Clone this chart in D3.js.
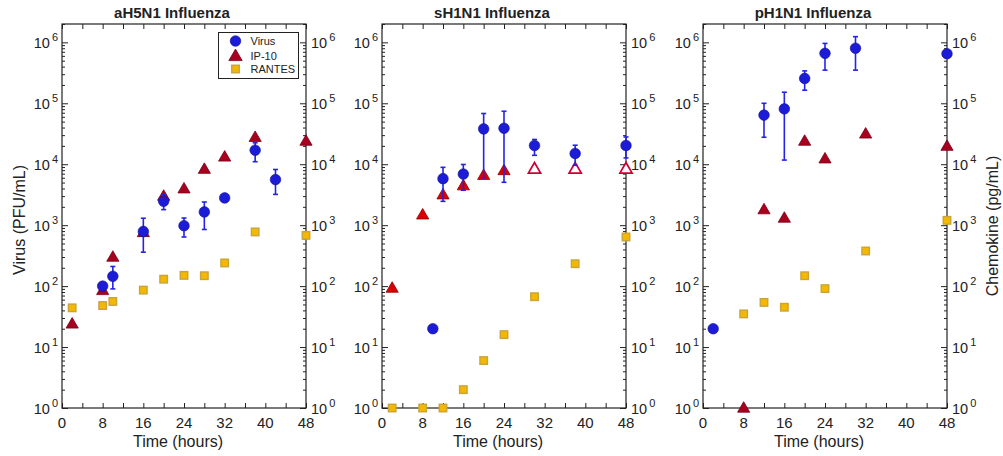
<!DOCTYPE html>
<html><head><meta charset="utf-8">
<script src="https://cdn.jsdelivr.net/npm/d3@7"></script>
<style>body{margin:0;background:#fff} text{font-family:"Liberation Sans",Arial,sans-serif;fill:#222}</style>
</head><body><svg id="c" width="1003" height="456"></svg>
<script>
// ---- data ----
const panelTitles = ["aH5N1 Influenza", "sH1N1 Influenza", "pH1N1 Influenza"];
const xTickLabels = [0, 8, 16, 24, 32, 40, 48];
const yTickExps = [0, 1, 2, 3, 4, 5, 6];
const legendLabels = ["Virus", "IP-10", "RANTES"];

const h5VirusTime = [8, 10, 16, 20, 24, 28, 32, 38, 42];
const h5Virus     = [100, 145, 790, 2470, 980, 1650, 2800, 17000, 5600];
const h5VirusLo   = [95, 90, 360, 1800, 640, 850, 2800, 11000, 3200];
const h5VirusHi   = [105, 210, 1300, 3150, 1310, 2400, 2800, 22500, 8200];
const h5IpTime    = [2, 8, 10, 16, 20, 24, 28, 32, 38, 48];
const h5Ip        = [24, 85, 300, 760, 3000, 3960, 8300, 13200, 27700, 24000];
const h5IpOpen    = [0, 0, 0, 0, 0, 0, 0, 0, 0, 0];
const h5RanTime   = [2, 8, 10, 16, 20, 24, 28, 32, 38, 48];
const h5Ran       = [44, 48, 56, 86, 130, 150, 148, 240, 775, 680];

const s1VirusTime = [10, 12, 16, 20, 24, 30, 38, 48];
const s1Virus     = [20, 5800, 6900, 38000, 39000, 20300, 15000, 20300];
const s1VirusLo   = [20, 2460, 3740, 6000, 5050, 14000, 9600, 12700];
const s1VirusHi   = [20, 8900, 9900, 68000, 74000, 25500, 20500, 28000];
const s1IpTime    = [2, 8, 12, 16, 20, 24, 30, 38, 48];
const s1Ip        = [93, 1480, 3160, 4450, 6600, 7900, 8400, 8400, 8400];
const s1IpOpen    = [0, 0, 0, 0, 0, 0, 1, 1, 1];
const s1RanTime   = [2, 8, 12, 16, 20, 24, 30, 38, 48];
const s1Ran       = [1, 1, 1, 2, 6, 16, 67, 233, 640];

const p1VirusTime = [2, 12, 16, 20, 24, 30, 48];
const p1Virus     = [20, 64000, 81000, 256000, 660000, 800000, 650000];
const p1VirusLo   = [20, 27700, 11700, 164000, 350000, 350000, 650000];
const p1VirusHi   = [20, 100000, 152000, 340000, 960000, 1240000, 650000];
const p1IpTime    = [8, 12, 16, 20, 24, 32, 48];
const p1Ip        = [1, 1800, 1310, 24000, 12300, 31500, 19800];
const p1IpOpen    = [0, 0, 0, 0, 0, 0, 0];
const p1RanTime   = [8, 12, 16, 20, 24, 32, 48];
const p1Ran       = [35, 54, 45, 148, 91, 377, 1200];

// ---- build ----
const panels = [
  {vt:h5VirusTime, v:h5Virus, lo:h5VirusLo, hi:h5VirusHi, it:h5IpTime, ip:h5Ip, open:h5IpOpen, rt:h5RanTime, r:h5Ran, triFill:"#a8001f", triStroke:"#780016"},
  {vt:s1VirusTime, v:s1Virus, lo:s1VirusLo, hi:s1VirusHi, it:s1IpTime, ip:s1Ip, open:s1IpOpen, rt:s1RanTime, r:s1Ran, triFill:"#dd0000", triStroke:"#8a0000"},
  {vt:p1VirusTime, v:p1Virus, lo:p1VirusLo, hi:p1VirusHi, it:p1IpTime, ip:p1Ip, open:p1IpOpen, rt:p1RanTime, r:p1Ran, triFill:"#a8001f", triStroke:"#780016"}
];
const svg = d3.select("#c");
const lefts = [62, 382, 703], W = 244, T = 24, B = 408;
const virusFill = "#1b1bd8", virusStroke = "#10108f", errColor = "#2424e6";
const ranFill = "#f4b800", ranStroke = "#c8a43a";
const triPath = s => `M0,${-s*0.6}L${s*0.58},${s*0.4}L${-s*0.58},${s*0.4}Z`;
const TRI = 10.5, SQ = 7.5, CR = 5.3;

const minor = [];
for (let d = 0; d <= 6; d++) for (let m = 2; m <= 9; m++) if (m * Math.pow(10, d) <= 2e6) minor.push(m * Math.pow(10, d));
const major = yTickExps.map(e => Math.pow(10, e));

panels.forEach((p, i) => {
  const L = lefts[i], R = L + W;
  const x = d3.scaleLinear().domain([0, 48]).range([L, R]);
  const y = d3.scaleLog().domain([1, 2e6]).range([B, T]);
  const g = svg.append("g");
  const clean = s => s.select(".domain").remove();
  g.append("g").attr("transform", `translate(0,${B})`).call(d3.axisTop(x).tickValues(d3.range(0, 49, 4)).tickSize(5).tickFormat("")).call(clean);
  g.append("g").attr("transform", `translate(0,${T})`).call(d3.axisBottom(x).tickValues(d3.range(0, 49, 4)).tickSize(5).tickFormat("")).call(clean);
  g.append("g").attr("transform", `translate(${L},0)`).call(d3.axisRight(y).tickValues(major).tickSize(6).tickFormat("")).call(clean);
  g.append("g").attr("transform", `translate(${L},0)`).call(d3.axisRight(y).tickValues(minor).tickSize(3).tickFormat("")).call(clean);
  g.append("g").attr("transform", `translate(${R},0)`).call(d3.axisLeft(y).tickValues(major).tickSize(6).tickFormat("")).call(clean);
  g.append("g").attr("transform", `translate(${R},0)`).call(d3.axisLeft(y).tickValues(minor).tickSize(3).tickFormat("")).call(clean);
  g.selectAll(".tick line").attr("stroke", "#222");
  g.append("rect").attr("x", L).attr("y", T).attr("width", W).attr("height", B - T).attr("fill", "none").attr("stroke", "#222").attr("stroke-width", 1.2);

  g.selectAll(".xl").data(xTickLabels).enter().append("text").attr("x", d => x(d)).attr("y", 428)
    .attr("text-anchor", "middle").attr("font-size", 15).text(d => d);
  yTickExps.forEach(e => {
    const yy = y(Math.pow(10, e));
    const tl = g.append("text").attr("x", L - 4).attr("y", yy + 6).attr("text-anchor", "end").attr("font-size", 14.5);
    tl.append("tspan").text("10");
    tl.append("tspan").attr("dx", 2).attr("dy", -7).attr("font-size", 11).text(e);
    const tr = g.append("text").attr("x", R + 5).attr("y", yy + 6).attr("text-anchor", "start").attr("font-size", 14.5);
    tr.append("tspan").text("10");
    tr.append("tspan").attr("dx", 2).attr("dy", -7).attr("font-size", 11).text(e);
  });
  g.append("text").attr("x", (L + R) / 2 - 12).attr("y", 18).attr("text-anchor", "middle")
    .attr("font-size", 15).attr("font-weight", "bold").text(panelTitles[i]);
  g.append("text").attr("x", (L + R) / 2 - 6).attr("y", 447).attr("text-anchor", "middle")
    .attr("font-size", 16).text("Time (hours)");

  g.selectAll(".ran").data(p.rt.map((t, k) => [t, p.r[k]])).enter().append("rect")
    .attr("x", d => x(d[0]) - SQ / 2).attr("y", d => y(d[1]) - SQ / 2).attr("width", SQ).attr("height", SQ)
    .attr("fill", ranFill).attr("stroke", ranStroke).attr("stroke-width", 1.4);
  g.selectAll(".ip").data(p.it.map((t, k) => [t, p.ip[k], p.open[k]])).enter().append("path")
    .attr("transform", d => `translate(${x(d[0])},${y(d[1])})`).attr("d", triPath(TRI))
    .attr("fill", d => d[2] ? "#fff" : p.triFill).attr("stroke", d => d[2] ? "#cc0033" : p.triStroke)
    .attr("stroke-width", d => d[2] ? 1.7 : 0.8);
  const vd = p.vt.map((t, k) => ({t, v: p.v[k], lo: p.lo[k], hi: p.hi[k]})).filter(d => d.hi > d.lo * 1.12);
  const eb = g.selectAll(".eb").data(vd).enter().append("g").attr("stroke", errColor).attr("stroke-width", 1.6);
  eb.append("line").attr("x1", d => x(d.t)).attr("x2", d => x(d.t)).attr("y1", d => y(d.lo)).attr("y2", d => y(d.hi));
  eb.append("line").attr("x1", d => x(d.t) - 2.5).attr("x2", d => x(d.t) + 2.5).attr("y1", d => y(d.lo)).attr("y2", d => y(d.lo));
  eb.append("line").attr("x1", d => x(d.t) - 2.5).attr("x2", d => x(d.t) + 2.5).attr("y1", d => y(d.hi)).attr("y2", d => y(d.hi));
  g.selectAll(".vc").data(p.vt.map((t, k) => [t, p.v[k]])).enter().append("circle")
    .attr("cx", d => x(d[0])).attr("cy", d => y(d[1])).attr("r", CR)
    .attr("fill", virusFill).attr("stroke", virusStroke).attr("stroke-width", 0.6);
});

svg.append("text").attr("transform", "translate(25,220) rotate(-90)").attr("text-anchor", "middle")
  .attr("font-size", 16).text("Virus (PFU/mL)");
svg.append("text").attr("transform", "translate(998,226) rotate(-90)").attr("text-anchor", "middle")
  .attr("font-size", 16).text("Chemokine (pg/mL)");

const lg = svg.append("g");
lg.append("rect").attr("x", 218.5).attr("y", 32.5).attr("width", 80).attr("height", 46)
  .attr("fill", "#fff").attr("stroke", "#222").attr("stroke-width", 1);
const ly = [41, 55.5, 69];
lg.append("circle").attr("cx", 235.5).attr("cy", ly[0]).attr("r", CR).attr("fill", virusFill).attr("stroke", virusStroke).attr("stroke-width", 0.6);
lg.append("path").attr("transform", `translate(235.5,${ly[1] + 0.5})`).attr("d", triPath(TRI + 1)).attr("fill", "#a8001f").attr("stroke", "#780016").attr("stroke-width", 0.8);
lg.append("rect").attr("x", 235.5 - SQ / 2).attr("y", ly[2] - SQ / 2).attr("width", SQ).attr("height", SQ).attr("fill", ranFill).attr("stroke", ranStroke).attr("stroke-width", 1.4);
legendLabels.forEach((t, k) => lg.append("text").attr("x", 250.5).attr("y", ly[k] + 4).attr("font-size", 11).text(t));
</script></body></html>
